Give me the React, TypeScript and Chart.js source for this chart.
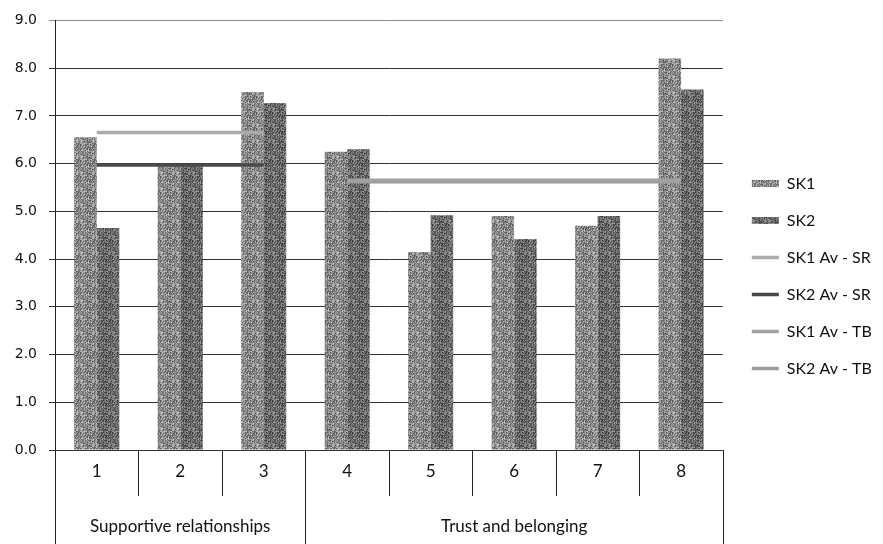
import React, { useEffect, useRef } from "react";
import { Chart, registerables } from "chart.js";

Chart.register(...registerables);

const categories = ["1", "2", "3", "4", "5", "6", "7", "8"];
const groups = [
  { label: "Supportive relationships", from: 0, to: 2 },
  { label: "Trust and belonging", from: 3, to: 7 },
];
const sk1 = [6.55, 5.95, 7.5, 6.25, 4.15, 4.9, 4.7, 8.2];
const sk2 = [4.65, 5.95, 7.27, 6.3, 4.92, 4.42, 4.9, 7.55];
const sk1AvSR = [6.65, 6.65, 6.65, null, null, null, null, null];
const sk2AvSR = [5.97, 5.97, 5.97, null, null, null, null, null];
const sk1AvTB = [null, null, null, 5.65, 5.65, 5.65, 5.65, 5.65];
const sk2AvTB = [null, null, null, 5.62, 5.62, 5.62, 5.62, 5.62];
const yTicks = [0, 1, 2, 3, 4, 5, 6, 7, 8, 9];

const FONT = "Lato, 'Open Sans', sans-serif";

function texture(base: number, spread: number): CanvasPattern | string {
  const size = 16;
  const c = document.createElement("canvas");
  c.width = size;
  c.height = size;
  const g = c.getContext("2d");
  if (!g) return `rgb(${base},${base},${base})`;
  const img = g.createImageData(size, size);
  for (let y = 0; y < size; y++) {
    for (let x = 0; x < size; x++) {
      const h = ((x * 73856093) ^ (y * 19349663) ^ ((x + y) * 83492791)) >>> 0;
      const v = Math.max(0, Math.min(255, base + ((h % 97) / 96 - 0.5) * spread));
      const i = (y * size + x) * 4;
      img.data[i] = v;
      img.data[i + 1] = v;
      img.data[i + 2] = v;
      img.data[i + 3] = 255;
    }
  }
  g.putImageData(img, 0, 0);
  return g.createPattern(c, "repeat") || `rgb(${base},${base},${base})`;
}

const tablePlugin = {
  id: "tablePlugin",
  afterDraw(chart: any) {
    const { ctx, chartArea, scales } = chart;
    const x = scales.x;
    const n = categories.length;
    const step = (chartArea.right - chartArea.left) / n;
    const bottom = chart.height;
    const rowMid = chartArea.bottom + 46;
    ctx.save();
    ctx.strokeStyle = "#222";
    ctx.lineWidth = 1;
    const groupEdges = new Set<number>();
    groups.forEach((g) => {
      groupEdges.add(g.from);
      groupEdges.add(g.to + 1);
    });
    for (let i = 0; i <= n; i++) {
      const px = Math.round(chartArea.left + i * step) + 0.5;
      ctx.beginPath();
      ctx.moveTo(px, chartArea.bottom);
      ctx.lineTo(px, groupEdges.has(i) ? bottom : rowMid);
      ctx.stroke();
    }
    ctx.fillStyle = "#111";
    ctx.font = "17px " + FONT;
    ctx.textAlign = "center";
    ctx.textBaseline = "middle";
    groups.forEach((g) => {
      const cx = (x.getPixelForValue(g.from) + x.getPixelForValue(g.to)) / 2;
      ctx.fillText(g.label, cx, chartArea.bottom + 77);
    });
    ctx.restore();
  },
};

export default function App() {
  const ref = useRef<HTMLCanvasElement | null>(null);
  useEffect(() => {
    if (!ref.current) return;
    const lineDs = (label: string, data: any[], color: string) => ({
      type: "line" as const,
      label,
      data,
      borderColor: color,
      backgroundColor: color,
      borderWidth: 3.5,
      pointRadius: 0,
      spanGaps: false,
      order: 1,
    });
    const chart = new Chart(ref.current, {
      type: "bar",
      data: {
        labels: categories,
        datasets: [
          {
            label: "SK1",
            data: sk1,
            backgroundColor: texture(140, 110),
            borderWidth: 0,
            order: 2,
            categoryPercentage: 0.54,
            barPercentage: 1.0,
          },
          {
            label: "SK2",
            data: sk2,
            backgroundColor: texture(108, 100),
            borderWidth: 0,
            order: 2,
            categoryPercentage: 0.54,
            barPercentage: 1.0,
          },
          lineDs("SK1 Av - SR", sk1AvSR, "#ababab"),
          lineDs("SK2 Av - SR", sk2AvSR, "#4a4a4a"),
          lineDs("SK1 Av - TB", sk1AvTB, "#a2a2a2"),
          lineDs("SK2 Av - TB", sk2AvTB, "#9a9a9a"),
        ] as any,
      },
      options: {
        responsive: false,
        animation: false,
        layout: { padding: { top: 17, right: 6, left: 0, bottom: 9 } },
        plugins: {
          tooltip: { enabled: false },
          legend: {
            position: "right",
            labels: {
              usePointStyle: true,
              pointStyleWidth: 27,
              boxHeight: 7,
              padding: 21,
              color: "#111",
              font: { family: FONT, size: 16 },
              sort: (a: any, b: any) => a.datasetIndex - b.datasetIndex,
              generateLabels(chart: any) {
                const items = Chart.defaults.plugins.legend.labels.generateLabels(chart);
                return items.map((it: any) => {
                  const ds = chart.data.datasets[it.datasetIndex];
                  if (ds.type === "line") {
                    return { ...it, pointStyle: "line", lineWidth: 3.5, strokeStyle: ds.borderColor };
                  }
                  return { ...it, pointStyle: "rect", lineWidth: 0 };
                });
              },
            },
          },
        },
        scales: {
          x: {
            grid: { display: false, drawTicks: false },
            border: { display: false },
            ticks: {
              color: "#111",
              font: { family: FONT, size: 17 },
              padding: 11,
            },
            afterFit(scale: any) {
              scale.height = 85;
            },
          },
          y: {
            min: 0,
            max: 9,
            afterBuildTicks(scale: any) {
              scale.ticks = yTicks.map((v) => ({ value: v }));
            },
            grid: {
              color: (c: any) => (c.tick && c.tick.value === 9 ? "#8a8a8a" : "#333333"),
              lineWidth: 1,
              tickLength: 6,
            },
            border: { display: true, color: "#222", width: 1 },
            ticks: {
              color: "#111",
              font: { family: "'DejaVu Sans', sans-serif", size: 14 },
              padding: 12,
              callback: (v: any) => Number(v).toFixed(1),
            },
            afterFit(scale: any) {
              scale.width = 55;
            },
          },
          gap: {
            position: "right",
            display: true,
            min: 0,
            max: 1,
            grid: { display: false, drawTicks: false },
            border: { display: false },
            ticks: { display: false },
            afterFit(scale: any) {
              scale.width = 8;
            },
          },
        },
      },
      plugins: [tablePlugin],
    });
    return () => chart.destroy();
  }, []);
  return (
    <div style={{ position: "fixed", left: 0, top: 0, width: 883, height: 544, background: "#fff" }}>
      <canvas ref={ref} width={883} height={544} />
    </div>
  );
}
